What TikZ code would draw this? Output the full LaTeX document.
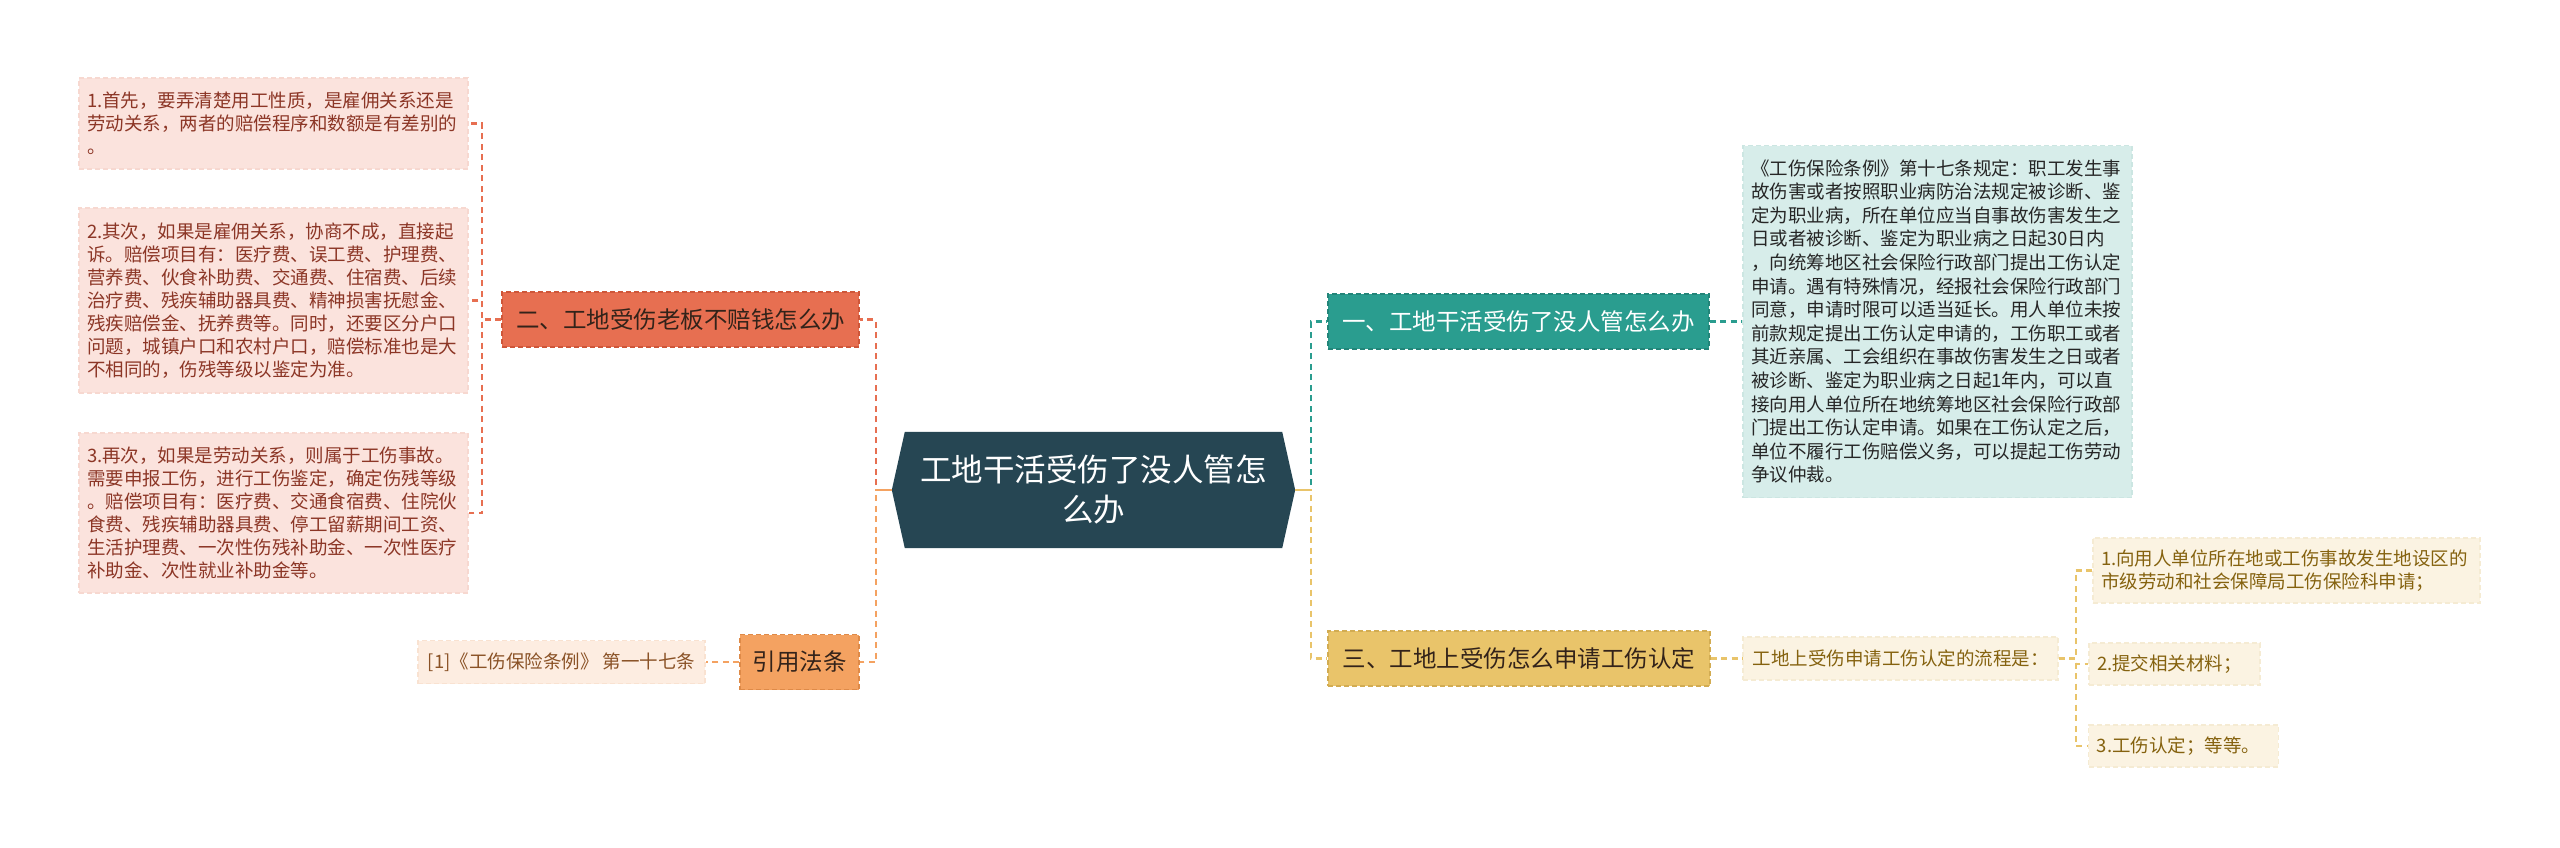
\documentclass[tikz,border=0pt]{standalone}
\usepackage{fontspec}
\setmainfont{Noto Sans CJK SC}
\usetikzlibrary{backgrounds}
\definecolor{cDark}{HTML}{264653}
\definecolor{cTeal}{HTML}{2A9D8F}
\definecolor{cYel}{HTML}{E9C46A}
\definecolor{cOra}{HTML}{F4A261}
\definecolor{cCor}{HTML}{E76F51}
\definecolor{bTeal}{HTML}{238579}
\definecolor{bYel}{HTML}{D2AC52}
\definecolor{bOra}{HTML}{DE8A48}
\definecolor{bCor}{HTML}{CE5639}
\definecolor{lCor}{HTML}{FBE3DD}
\definecolor{lCorB}{HTML}{F7D8D0}
\definecolor{tCor}{HTML}{8C3626}
\definecolor{lTeal}{HTML}{D7EDEA}
\definecolor{lTealB}{HTML}{CCE6E2}
\definecolor{tTeal}{HTML}{262626}
\definecolor{lYel}{HTML}{FBF3E2}
\definecolor{lYelB}{HTML}{F5EBD3}
\definecolor{tYel}{HTML}{85620F}
\definecolor{lOra}{HTML}{FDEDE1}
\definecolor{lOraB}{HTML}{F9E2D1}
\definecolor{tOra}{HTML}{8A5226}
\definecolor{tDark}{HTML}{33231A}
\tikzset{
  box/.style={rectangle, inner sep=0pt, line width=1.3pt, dash pattern=on 5pt off 3pt},
  branch/.style={box, minimum height=55pt, font=\fontsize{23.5}{28}\selectfont},
  leafbox/.style={box, font=\fontsize{18.5}{23}\selectfont, align=left, inner xsep=8pt},
  conn/.style={line width=2.2pt, dash pattern=on 6pt off 4.5pt},
  stub/.style={line width=2.2pt},
}
\begin{document}
\begin{tikzpicture}[x=1pt,y=-1pt]
\useasboundingbox (0,0) rectangle (2560,847);
% central
\node[font=\fontsize{31.5}{40}\selectfont, text=white, align=center, minimum width=403pt, minimum height=116pt, inner sep=0pt] (c) at (1093.5,490) {工地干活受伤了没人管怎\\么办};
\begin{scope}[on background layer]
\fill[white] (0,0) rectangle (2560,847);
\fill[cDark] (c.west) -- ([xshift=13pt]c.north west) -- ([xshift=-13pt]c.north east) -- (c.east) -- ([xshift=-13pt]c.south east) -- ([xshift=13pt]c.south west) -- cycle;
\end{scope}
% branches
\node[branch, fill=cCor, draw=bCor, text=tDark, minimum width=357pt] (b2) at (680.5,319.5) {二、工地受伤老板不赔钱怎么办};
\node[branch, fill=cOra, draw=bOra, text=tDark, minimum width=119pt] (bRef) at (799.5,662) {引用法条};
\node[branch, fill=cTeal, draw=bTeal, text=white, minimum width=381pt] (b1) at (1518.5,321.5) {一、工地干活受伤了没人管怎么办};
\node[branch, fill=cYel, draw=bYel, text=tDark, minimum width=382pt] (b3) at (1519,658.5) {三、工地上受伤怎么申请工伤认定};
% left leaves
\node[leafbox, fill=lCor, draw=lCorB, text=tCor, text width=373pt, minimum height=91pt] (L1) at (273.5,123.5) {1.首先，要弄清楚用工性质，是雇佣关系还是\\劳动关系，两者的赔偿程序和数额是有差别的\\。};
\node[leafbox, fill=lCor, draw=lCorB, text=tCor, text width=373pt, minimum height=185pt] (L2) at (273.5,300.5) {2.其次，如果是雇佣关系，协商不成，直接起\\诉。赔偿项目有：医疗费、误工费、护理费、\\营养费、伙食补助费、交通费、住宿费、后续\\治疗费、残疾辅助器具费、精神损害抚慰金、\\残疾赔偿金、抚养费等。同时，还要区分户口\\问题，城镇户口和农村户口，赔偿标准也是大\\不相同的，伤残等级以鉴定为准。};
\node[leafbox, fill=lCor, draw=lCorB, text=tCor, text width=373pt, minimum height=160pt] (L3) at (273.5,513) {3.再次，如果是劳动关系，则属于工伤事故。\\需要申报工伤，进行工伤鉴定，确定伤残等级\\。赔偿项目有：医疗费、交通食宿费、住院伙\\食费、残疾辅助器具费、停工留薪期间工资、\\生活护理费、一次性伤残补助金、一次性医疗\\补助金、次性就业补助金等。};
\node[leafbox, fill=lOra, draw=lOraB, text=tOra, minimum width=287pt, minimum height=43pt, align=center] (LRef) at (561.5,662) {[1]《工伤保险条例》 第一十七条};
% right leaves
\node[leafbox, fill=lTeal, draw=lTealB, text=tTeal, text width=373pt, minimum height=352pt, font=\fontsize{18.5}{23.6}\selectfont] (R1) at (1937.5,321.5) {《工伤保险条例》第十七条规定：职工发生事\\故伤害或者按照职业病防治法规定被诊断、鉴\\定为职业病，所在单位应当自事故伤害发生之\\日或者被诊断、鉴定为职业病之日起30日内\\，向统筹地区社会保险行政部门提出工伤认定\\申请。遇有特殊情况，经报社会保险行政部门\\同意，申请时限可以适当延长。用人单位未按\\前款规定提出工伤认定申请的，工伤职工或者\\其近亲属、工会组织在事故伤害发生之日或者\\被诊断、鉴定为职业病之日起1年内，可以直\\接向用人单位所在地统筹地区社会保险行政部\\门提出工伤认定申请。如果在工伤认定之后，\\单位不履行工伤赔偿义务，可以提起工伤劳动\\争议仲裁。};
\node[leafbox, fill=lYel, draw=lYelB, text=tYel, minimum width=315pt, minimum height=43pt, align=center] (R3) at (1900.5,658.5) {工地上受伤申请工伤认定的流程是：};
\node[leafbox, fill=lYel, draw=lYelB, text=tYel, text width=371pt, minimum height=65pt] (Y1) at (2286.5,570.5) {1.向用人单位所在地或工伤事故发生地设区的\\市级劳动和社会保障局工伤保险科申请；};
\node[leafbox, fill=lYel, draw=lYelB, text=tYel, minimum width=163pt, minimum height=42pt, align=left] (Y2) at (2174.5,664) {2.提交相关材料；\hspace*{10pt}};
\node[leafbox, fill=lYel, draw=lYelB, text=tYel, minimum width=181pt, minimum height=42pt, align=left] (Y3) at (2183.5,746) {3.工伤认定；等等。\hspace*{10pt}};
% connectors left
\draw[conn, cCor] (c.west) -- ++(-16,0) |- (b2.east);
\draw[conn, cOra] (c.west) -- ++(-16,0) |- (bRef.east);
\draw[stub, cOra] (c.west) -- ++(-16,0);
\draw[conn, cCor] (b2.west) -- ++(-19,0) |- (L1.east);
\draw[conn, cCor] (b2.west) -- ++(-19,0) |- (L2.east);
\draw[conn, cCor] (b2.west) -- ++(-19,0) |- (L3.east);
\draw[conn, cOra] (bRef.west) -- (LRef.east);
% connectors right
\draw[conn, cTeal] (c.east) -- ++(16,0) |- (b1.west);
\draw[conn, cYel] (c.east) -- ++(16,0) |- (b3.west);
\draw[stub, cYel] (c.east) -- ++(16,0);
\draw[conn, cTeal] (b1.east) -- (R1.west);
\draw[conn, cYel] (b3.east) -- (R3.west);
\draw[conn, cYel] (R3.east) -- ++(17,0) |- (Y1.west);
\draw[conn, cYel] (R3.east) -- ++(17,0) |- (Y2.west);
\draw[conn, cYel] (R3.east) -- ++(17,0) |- (Y3.west);
\end{tikzpicture}
\end{document}
